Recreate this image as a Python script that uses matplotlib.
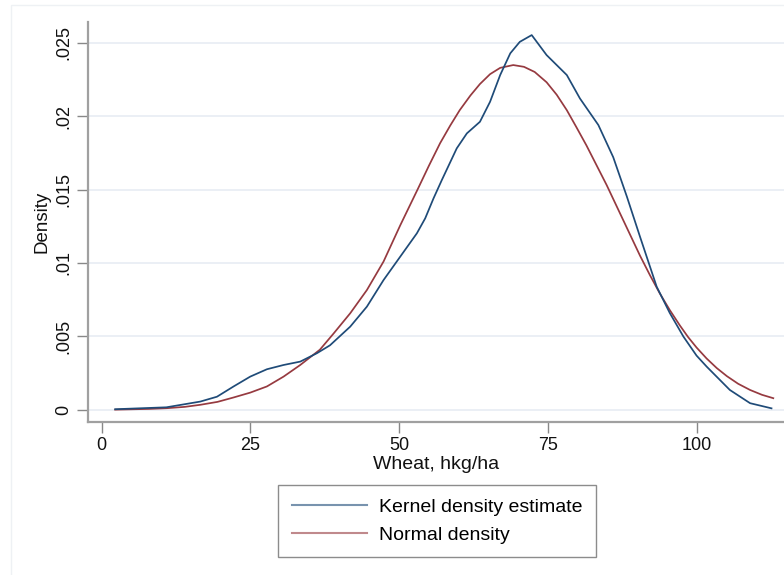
import matplotlib
matplotlib.use("Agg")
import matplotlib.pyplot as plt
from matplotlib.patches import Rectangle

# Kernel density estimate
kde_x = [2.3, 10.9, 16.6, 19.4, 22.2, 25.0, 27.8, 30.6, 33.4, 36.2, 38.4, 41.8,
         44.6, 47.4, 50.2, 53.0, 54.4, 55.8, 57.2, 59.7, 61.4, 63.6, 65.3, 67.0,
         68.7, 70.3, 72.3, 74.8, 78.2, 80.4, 83.5, 86.0, 88.3, 90.5, 93.3, 95.5,
         97.8, 100.0, 101.7, 105.6, 109.0, 112.6]
kde_y = [0.00005, 0.00018, 0.00057, 0.0009, 0.0016, 0.00227, 0.00277, 0.00306,
         0.00329, 0.00386, 0.0044, 0.00567, 0.00703, 0.00884, 0.01043, 0.01202,
         0.01304, 0.0144, 0.01565, 0.0178, 0.01882, 0.01961, 0.02097, 0.02279,
         0.02427, 0.02505, 0.02551, 0.02415, 0.02279, 0.0212, 0.01939, 0.01720,
         0.01451, 0.01179, 0.00839, 0.0066, 0.00499, 0.0037, 0.00295, 0.00136,
         0.00046, 0.00011]

# Normal density
norm_x = [2.3, 8.0, 11.0, 14.0, 16.6, 19.5, 22.2, 25.0, 27.8, 30.6, 33.4, 36.7,
          39.0, 41.8, 44.6, 47.4, 50.2, 53.2, 55.0, 56.9, 58.6, 60.2, 62.0, 63.6,
          65.3, 67.0, 69.2, 71.0, 72.8, 74.8, 76.5, 78.2, 79.8, 81.5, 83.2, 84.9,
          86.3, 87.7, 89.1, 90.5, 92.2, 93.8, 95.5, 97.2, 98.6, 100.0, 101.7,
          103.4, 105.1, 107.0, 109.0, 111.0, 112.9]
norm_y = [0.00002, 0.00007, 0.00012, 0.00021, 0.00035, 0.00055, 0.00085, 0.00118,
          0.0016, 0.00227, 0.00306, 0.0041, 0.0052, 0.00658, 0.00816, 0.01010,
          0.01256, 0.01507, 0.01660, 0.01815, 0.01935, 0.02040, 0.02140, 0.02218,
          0.02285, 0.02328, 0.02347, 0.02335, 0.02300, 0.02230, 0.02145, 0.02040,
          0.01925, 0.01800, 0.01665, 0.01530, 0.01410, 0.01290, 0.01170, 0.01050,
          0.00915, 0.00795, 0.00680, 0.00575, 0.00495, 0.00425, 0.00350, 0.00285,
          0.00230, 0.00178, 0.00136, 0.00103, 0.0008]

x_ticks = [0, 25, 50, 75, 100]
y_ticks = [0, 0.005, 0.01, 0.015, 0.02, 0.025]
y_tick_labels = ["0", ".005", ".01", ".015", ".02", ".025"]

plt.rcParams['font.family'] = ['Liberation Sans', 'DejaVu Sans']

fig = plt.figure(figsize=(7.84, 5.75), dpi=100)
W, H = 784, 575

# faint outer graph-region frame
fig.patches.append(Rectangle((11 / W, -0.1), 1.2, (575 - 5) / H + 0.1,
                             transform=fig.transFigure, fill=False,
                             edgecolor='#eef1f4', lw=1.0))

ax = fig.add_axes([88 / W, 1 - 422 / H, (W - 88) / W, (422 - 22) / H])
ax.set_xlim(-2.27, 114.7)
ax.set_ylim(-0.00082, 0.0264)

for yt in y_ticks:
    ax.axhline(yt, color='#e9eef4', lw=1.3, zorder=0)

blue = '#1f4b78'
red = '#963a40'
ax.plot(kde_x, kde_y, color=blue, lw=1.25, label='Kernel density estimate', zorder=3)
ax.plot(norm_x, norm_y, color=red, lw=1.25, label='Normal density', zorder=2)

for s in ['top', 'right']:
    ax.spines[s].set_visible(False)
for s in ['left', 'bottom']:
    ax.spines[s].set_color('#a0a0a0')
    ax.spines[s].set_linewidth(1.6)

FS = 13
ax.set_xticks(x_ticks)
ax.set_xticklabels([str(t) for t in x_ticks])
ax.set_yticks(y_ticks)
ax.set_yticklabels(y_tick_labels, rotation=90, va='center')
ax.tick_params(axis='both', direction='out', length=8, width=1.0,
               color='#888888', labelsize=FS, labelcolor='#111111', pad=3)

ax.set_xlabel('Wheat, hkg/ha', fontsize=14, color='#111111', labelpad=1)
ax.set_ylabel('Density', fontsize=13.5, color='#111111', labelpad=4)

leg = ax.legend(loc='upper left', bbox_to_anchor=((278 - 88) / (W - 88), -(485 - 422) / 400),
                ncol=1, frameon=True, fancybox=False, fontsize=14,
                handlelength=3.9, handletextpad=0.6, borderpad=0.7,
                labelspacing=0.5, borderaxespad=0)
leg.get_frame().set_edgecolor('#707070')
leg.get_frame().set_linewidth(1.0)
for line in leg.get_lines():
    line.set_linewidth(1.5)
    line.set_alpha(0.6)

fig.savefig('out.png', dpi=100, facecolor='white')
